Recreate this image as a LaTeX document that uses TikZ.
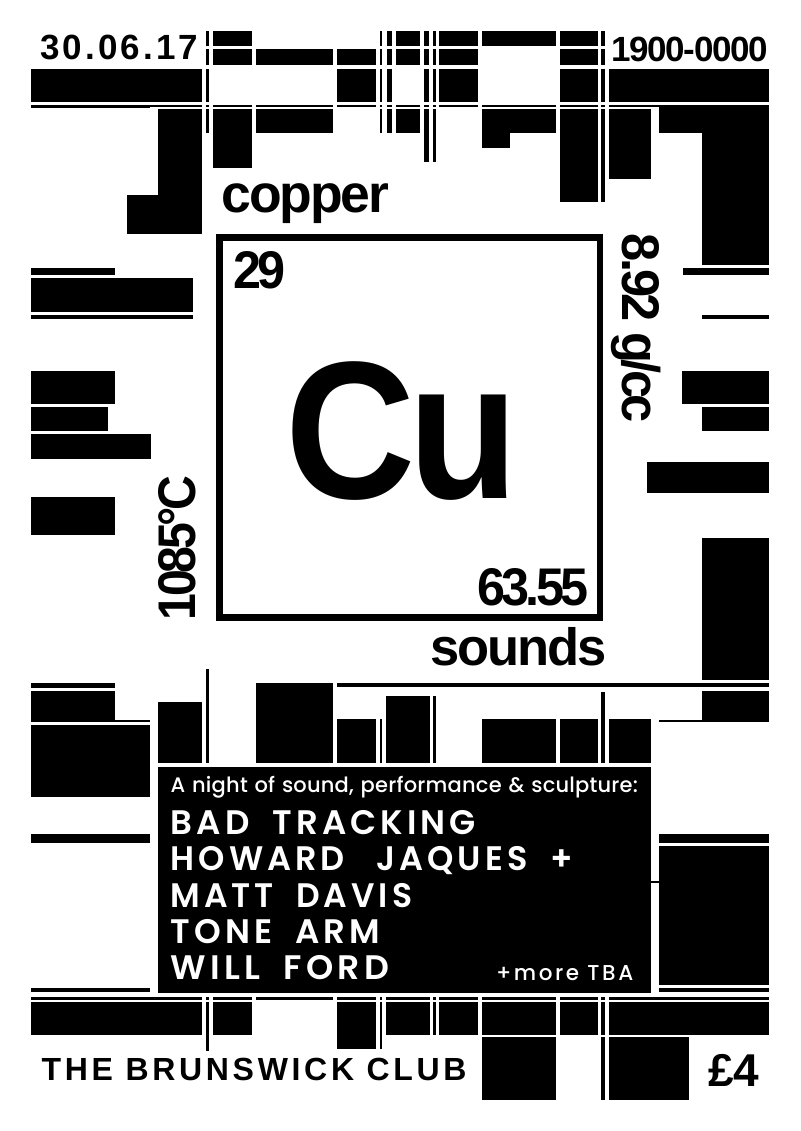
\documentclass[tikz,border=0pt]{standalone}
\usepackage{fontspec}
\setmainfont{Liberation Sans}
\newfontfamily\tightfont[LetterSpace=-4]{Liberation Sans}
\newfontfamily\numfont[LetterSpace=-7]{Liberation Sans}
\newfontfamily\widefont[LetterSpace=9]{Liberation Sans}
\newfontfamily\clubfont[LetterSpace=11.5]{Liberation Sans}
\newfontfamily\bandfont[LetterSpace=12,WordSpace=1.9]{Poppins SemiBold}
\newfontfamily\morefont[LetterSpace=12]{Poppins Medium}
\newfontfamily\nightfont[LetterSpace=1,WordSpace=1.2]{Poppins Medium}
\newcommand{\fs}[1]{\fontsize{#1}{#1}\selectfont}
\tikzset{
  txt/.style={anchor=base west, inner sep=0pt, outer sep=0pt, text=black},
  wtxt/.style={txt, text=white},
  bar/.style={fill=black},
}
\begin{document}
\begin{tikzpicture}[x=1pt, y=-1pt]
\useasboundingbox (0,0) rectangle (800,1131);
\fill[white] (0,0) rectangle (800,1131);
\foreach \xa/\xb in {205.5/209, 213/252, 380/382.3, 386.5/392, 396/420, 424/429, 433.3/435.7, 439.3/478, 481.7/556, 560/598.3, 601.3/605.3}
  \fill[bar] (\xa,31) rectangle (\xb,45.7);
\foreach \xa/\xb in {205.5/209, 213/252, 256/333, 337/376, 380/382.3, 386.5/392, 396/420, 424/429, 433.3/435.7, 439.3/478, 560/598.3, 601.3/605.3}
  \fill[bar] (\xa,49) rectangle (\xb,65);
\foreach \xa/\xb in {31/202, 205.5/209, 337/376, 380/382.3, 386.5/392, 424/429, 433.3/435.7, 439.3/478, 560/598.3, 601.3/605.3, 609/769}
  \fill[bar] (\xa,68.7) rectangle (\xb,101.7);
\foreach \xa/\xb in {150/202, 205.5/209, 213/252, 256/333, 337/376, 380/382.3, 386.5/392, 396/420, 424/429, 433.3/435.7, 439.3/478, 481.7/556, 560/598.3, 601.3/605.3, 609/659}
  \fill[bar] (\xa,105) rectangle (\xb,106.7);
\fill[bar] (31,105) rectangle (150,108.3);
\fill[bar] (659,105.5) rectangle (769,108.7);
\foreach \xa/\xb/\yb in {205.5/209/132.7, 213/252/168, 256/333/132.7, 380/382.3/132.7, 386.5/392/132.7, 396/420/132.7, 424/429/161.7, 433.3/435.7/161.7, 481.7/556/132.7, 481.7/510/147.7, 560/598.3/201.7, 601.3/605.3/201.7, 609/651.3/179, 659/769/132.7, 702/769/265, 158/202/234}
  \fill[bar] (\xa,109.5) rectangle (\xb,\yb);
\fill[bar] (127,194.7) rectangle (202,234);
\foreach \xa/\xb/\ya/\yb in {31/115/268.3/275.3, 31/193/278/312, 31/193/315/318.7, 31/115/371/403.7, 31/107.5/407/431, 31/151/434/459, 31/115/496.7/535,
  682.7/769/268.3/275.3, 701.7/769/315/318.7, 682.3/769/371.3/403.7, 701.7/769/407/431, 646.7/769/462/493.3, 701.7/769/538/680}
  \fill[bar] (\xa,\ya) rectangle (\xb,\yb);
\foreach \xa/\xb/\ya/\yb in {31/115/683/687.7, 31/115/690.7/721.7, 115/150/719.5/721.7, 31/150/724.7/796.7, 31/150/834/843.3, 337/769/683.3/686.8,
  701.7/769/690.7/721.7, 659/702/719.5/721.7, 659/769/834/843.3, 659/769/846.3/985, 659/769/988.3/992.3, 31/150/988.3/992.3, 651/659/880.7/882.7}
  \fill[bar] (\xa,\ya) rectangle (\xb,\yb);
\foreach \xa/\xb/\ya in {158/202/701.7, 205.5/209/669, 256/333/682.7, 337/376/719.3, 380/382.3/719.3, 386/430/696, 433.3/435.7/696, 481.7/556/719.3, 560/598.3/719.3, 601.3/605.3/692.3, 609/651.3/719.3}
  \fill[bar] (\xa,\ya) rectangle (\xb,762.7);
\fill[bar] (157.5,767.3) rectangle (651.2,993.3);
\foreach \xa/\xb in {31/202, 205.5/209, 213/252, 256/333, 337/376, 380/382.3, 386/430, 433.3/435.7, 439.3/478, 481.7/556, 560/598.3, 601.3/605.3, 609/769}
  \fill[bar] (\xa,996.7) rectangle (\xb,999.7);
\foreach \xa/\xb/\yb in {31/202/1034.7, 205.5/209/1050.7, 213/252/1034.7, 337/376/1049.3, 380/382.3/1049.3, 386/430/1034.7, 433.3/435.7/1034.7, 439.3/478/1034.7, 481.7/556/1034.7, 560/598.3/1034.7, 601.3/605.3/1034.7, 609/769/1034.7}
  \fill[bar] (\xa,1001.7) rectangle (\xb,\yb);
\foreach \xa/\xb in {481.7/556, 601.3/605.3, 609/689.3}
  \fill[bar] (\xa,1037.3) rectangle (\xb,1100);
\draw[line width=6.7pt, black] (219.7,237.4) rectangle (600,617.8);
\node[txt] (date) at (40,60) {\widefont\bfseries\fs{35}30.06.17};
\node[txt] (time) at (611.7,61.7) {\tightfont\bfseries\fs{35}1900-0000};
\node[txt] (copper) at (221.7,213) {\tightfont\bfseries\fs{53.5}copper};
\node[txt, xscale=.95] (number) at (233,288.5) {\numfont\bfseries\fs{53}29};
\node[txt, xscale=.92] (symbol) at (285.5,498) {\tightfont\bfseries\fs{196}Cu};
\node[txt, xscale=.95] (mass) at (477,605) {\numfont\bfseries\fs{53}63.55};
\node[txt] (sounds) at (430,665) {\tightfont\bfseries\fs{52.5}sounds};
\node[txt, rotate=-90, xscale=.955] (density) at (622,234) {\numfont\bfseries\fs{53}8.92 g/cc};
\node[txt, rotate=90, xscale=.91] (melting) at (195,620) {\numfont\bfseries\fs{53}1085°C};
\node[wtxt] (night) at (170.7,792.3) {\nightfont\fs{21}A night of sound, performance \& sculpture:};
\node[wtxt] (band1) at (170.7,834.7) {\bandfont\fs{34}BAD TRACKING};
\node[wtxt, xscale=.985] (band2) at (170.7,870.7) {\bandfont\fs{34}HOWARD\hspace{9pt} JAQUES +};
\node[wtxt, xscale=.97] (band3) at (170.7,907) {\bandfont\fs{34}MATT DAVIS};
\node[wtxt] (band4) at (170.7,943) {\bandfont\fs{34}TONE ARM};
\node[wtxt, xscale=1.02] (band5) at (170.7,979.7) {\bandfont\fs{34}WILL FORD};
\node[wtxt] (more) at (496,980.7) {\morefont\fs{21.5}+more TBA};
\node[txt] (club) at (41.7,1080.7) {\clubfont\bfseries\fs{32}THE BRUNSWICK CLUB};
\node[txt] (price) at (708,1086) {\bfseries\fs{46}£4};
\end{tikzpicture}
\end{document}
